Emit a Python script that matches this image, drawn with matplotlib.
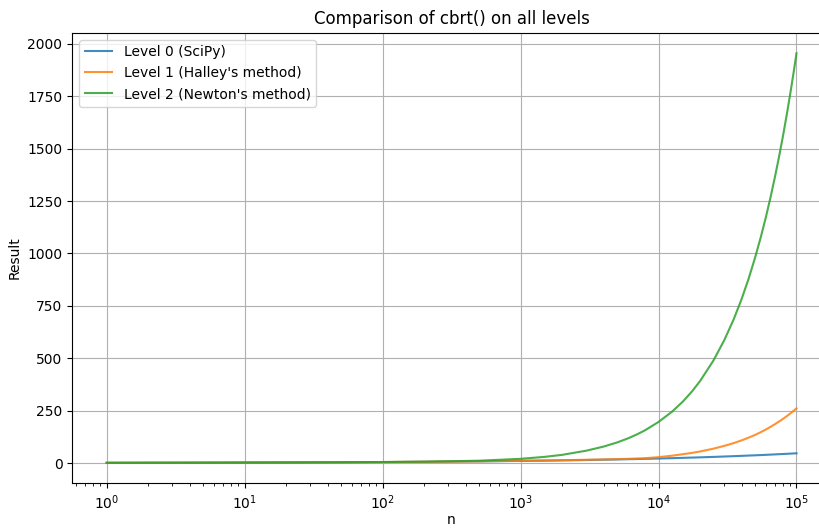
import matplotlib
matplotlib.use('Agg')
import matplotlib.pyplot as plt

# values (n on a log axis)
n_values = [1, 2, 5, 10, 20, 50, 100, 200, 500, 1000, 1500, 2000, 3000,
            4000, 5000, 6000, 7000, 8000, 10000, 12500, 15000, 17500, 20000,
            25000, 30000, 35000, 40000, 45000, 50000, 55000, 60000, 65000,
            70000, 75000, 80000, 85000, 90000, 95000, 100000]

level0_scipy = [1.0, 1.3, 1.7, 2.2, 2.7, 3.7, 4.6, 5.8, 7.9, 10.0, 11.4,
                12.6, 14.4, 15.9, 17.1, 18.2, 19.1, 20.0, 21.5, 23.2, 24.7,
                26.0, 27.1, 29.2, 31.1, 32.7, 34.2, 35.6, 36.8, 38.0, 39.1,
                40.2, 41.2, 42.2, 43.1, 44.0, 44.8, 45.6, 46.4]

level1_halley = [1.0, 1.3, 1.7, 2.2, 2.7, 3.7, 4.7, 5.9, 8.2, 10.8, 12.3,
                 13.5, 15.5, 17.0, 18.5, 20.0, 21.5, 23.0, 28.0, 35.0, 42.0,
                 48.5, 55.0, 68.5, 82.0, 95.0, 108.0, 121.0, 134.0, 147.0,
                 160.0, 173.0, 186.0, 198.5, 211.0, 223.5, 236.0, 248.5,
                 261.0]

level2_newton = [1.0, 1.3, 1.7, 2.2, 2.7, 3.8, 4.8, 6.5, 11.0, 20.0, 29.5,
                 39.0, 59.0, 78.5, 98.0, 117.5, 137.0, 156.5, 196.0, 244.5,
                 293.0, 342.0, 391.0, 489.0, 587.0, 684.5, 782.0, 880.0,
                 978.0, 1075.5, 1173.0, 1271.0, 1369.0, 1466.5, 1564.0,
                 1662.0, 1760.0, 1857.5, 1955.0]

labels = ["Level 0 (SciPy)", "Level 1 (Halley's method)",
          "Level 2 (Newton's method)"]


def main():
    fig, ax = plt.subplots(figsize=(8.2, 5.29), dpi=100)
    # the reference is cropped: its right spine falls just past the edge
    fig.subplots_adjust(left=0.088, right=1.0134, top=0.938, bottom=0.0864)

    ax.plot(n_values, level0_scipy, label=labels[0], alpha=0.85)
    ax.plot(n_values, level1_halley, label=labels[1], alpha=0.85)
    ax.plot(n_values, level2_newton, label=labels[2], alpha=0.85)

    ax.set_xscale('log')
    ax.set_title('Comparison of cbrt() on all levels')
    ax.set_xlabel('n', labelpad=1)
    ax.set_ylabel('Result')
    ax.grid(True)
    ax.legend(loc='upper left')

    fig.savefig('out.png')


if __name__ == '__main__':
    main()
